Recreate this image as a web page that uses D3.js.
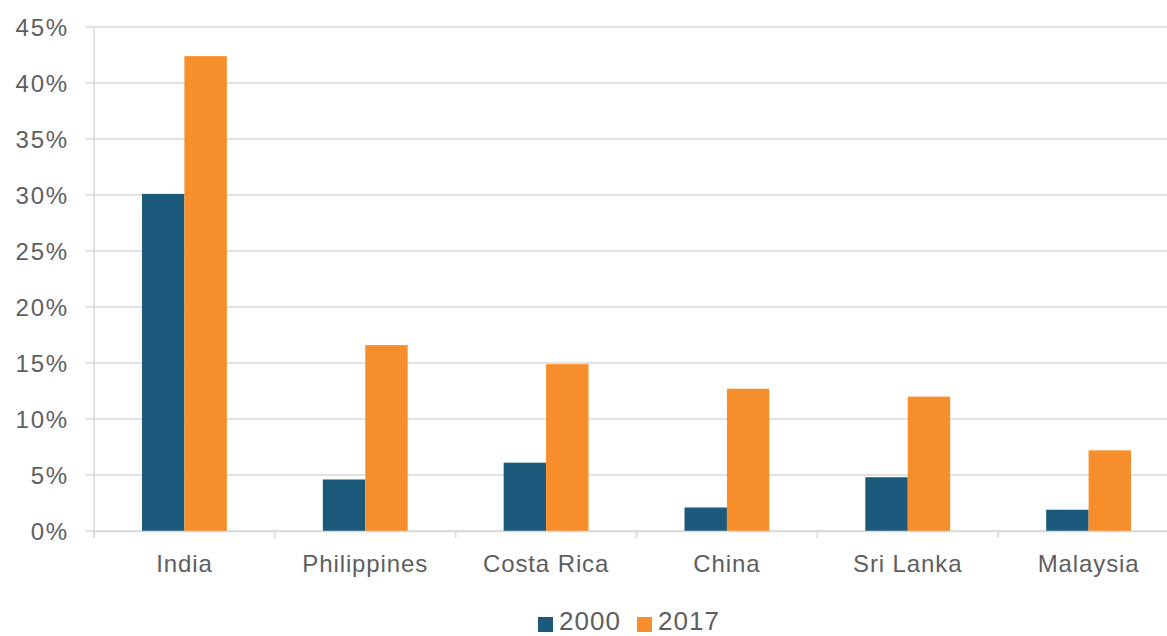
<!DOCTYPE html>
<html>
<head>
<meta charset="utf-8">
<script src="https://cdn.jsdelivr.net/npm/d3@7"></script>
<style>
  body { margin: 0; background: #fff; }
  svg text { font-family: "Liberation Sans", Arial, sans-serif; fill: #5e5e5e; }
</style>
</head>
<body>
<div id="chart"></div>
<script>
// données
const countries = ['India', 'Philippines', 'Costa Rica', 'China', 'Sri Lanka', 'Malaysia'];
const years = ['2000', '2017'];
const values2000 = [30.1, 4.6, 6.1, 2.1, 4.8, 1.9];
const values2017 = [42.4, 16.6, 14.9, 12.7, 12.0, 7.2];
const yTicks = [0, 5, 10, 15, 20, 25, 30, 35, 40, 45];
const colors = ['#1c5a7b', '#f78e2c'];

const width = 1167, height = 636;
const margin = { top: 27, right: -12, bottom: 105, left: 94 };
const innerW = width - margin.left - margin.right;
const innerH = height - margin.top - margin.bottom;

const svg = d3.select('#chart').append('svg')
    .attr('width', width)
    .attr('height', height);

const g = svg.append('g')
    .attr('transform', `translate(${margin.left},${margin.top})`);

const x = d3.scaleBand()
    .domain(countries)
    .range([0, innerW]);

const x1 = d3.scaleBand()
    .domain(years)
    .range([48, x.bandwidth() - 48]);

const y = d3.scaleLinear()
    .domain([0, 45])
    .range([innerH, 0]);

// Grille horizontale
g.append('g')
    .selectAll('line')
    .data(yTicks)
    .enter().append('line')
    .attr('x1', -9)
    .attr('x2', innerW)
    .attr('y1', d => y(d))
    .attr('y2', d => y(d))
    .attr('stroke', '#d9d9d9')
    .attr('stroke-width', 1.5);

// Axe vertical (ligne seulement)
g.append('line')
    .attr('x1', 0).attr('x2', 0)
    .attr('y1', 0).attr('y2', innerH + 7)
    .attr('stroke', '#d9d9d9')
    .attr('stroke-width', 1.5);

// Axe Y
const yAxis = g.append('g')
    .call(d3.axisLeft(y).tickValues(yTicks).tickFormat(d => d + '%').tickSize(0).tickPadding(25));
yAxis.select('.domain').remove();
yAxis.selectAll('text')
    .attr('font-size', 24)
    .attr('dy', '0.36em')
    .style('font-family', '"Liberation Sans", Arial, sans-serif')
    .style('fill', '#5e5e5e')
    .style('letter-spacing', '1.8px');

// Barres
const data = countries.map((c, i) => ({ country: c, vals: [values2000[i], values2017[i]] }));

const groups = g.selectAll('.group')
    .data(data)
    .enter().append('g')
    .attr('class', 'group')
    .attr('transform', d => `translate(${x(d.country)},0)`);

groups.selectAll('rect')
    .data(d => d.vals.map((v, j) => ({ year: years[j], value: v, j })))
    .enter().append('rect')
    .attr('x', d => x1(d.year))
    .attr('width', x1.bandwidth())
    .attr('y', d => y(d.value))
    .attr('height', d => innerH - y(d.value))
    .attr('fill', d => colors[d.j]);

// Axe X
const xAxis = g.append('g')
    .attr('transform', `translate(0,${innerH})`)
    .call(d3.axisBottom(x).tickSize(0).tickPadding(24));
xAxis.select('.domain')
    .attr('stroke', '#d9d9d9')
    .attr('stroke-width', 1.5);
xAxis.selectAll('text')
    .attr('font-size', 24)
    .attr('dy', '0.71em')
    .style('font-family', '"Liberation Sans", Arial, sans-serif')
    .style('fill', '#5e5e5e')
    .style('letter-spacing', '0.9px');

// Petites graduations entre catégories
g.append('g')
    .selectAll('line')
    .data(countries)
    .enter().append('line')
    .attr('x1', d => x(d))
    .attr('x2', d => x(d))
    .attr('y1', innerH)
    .attr('y2', innerH + 7)
    .attr('stroke', '#d9d9d9')
    .attr('stroke-width', 1.5);

// Légende
const legend = svg.append('g')
    .attr('transform', 'translate(538,617)');

const items = legend.selectAll('g')
    .data(years)
    .enter().append('g')
    .attr('transform', (d, i) => `translate(${i * 99},0)`);

items.append('rect')
    .attr('width', 15)
    .attr('height', 15)
    .attr('fill', (d, i) => colors[i]);

items.append('text')
    .attr('x', 21)
    .attr('y', 13)
    .attr('font-size', 26)
    .style('letter-spacing', '1px')
    .text(d => d);
</script>
</body>
</html>
